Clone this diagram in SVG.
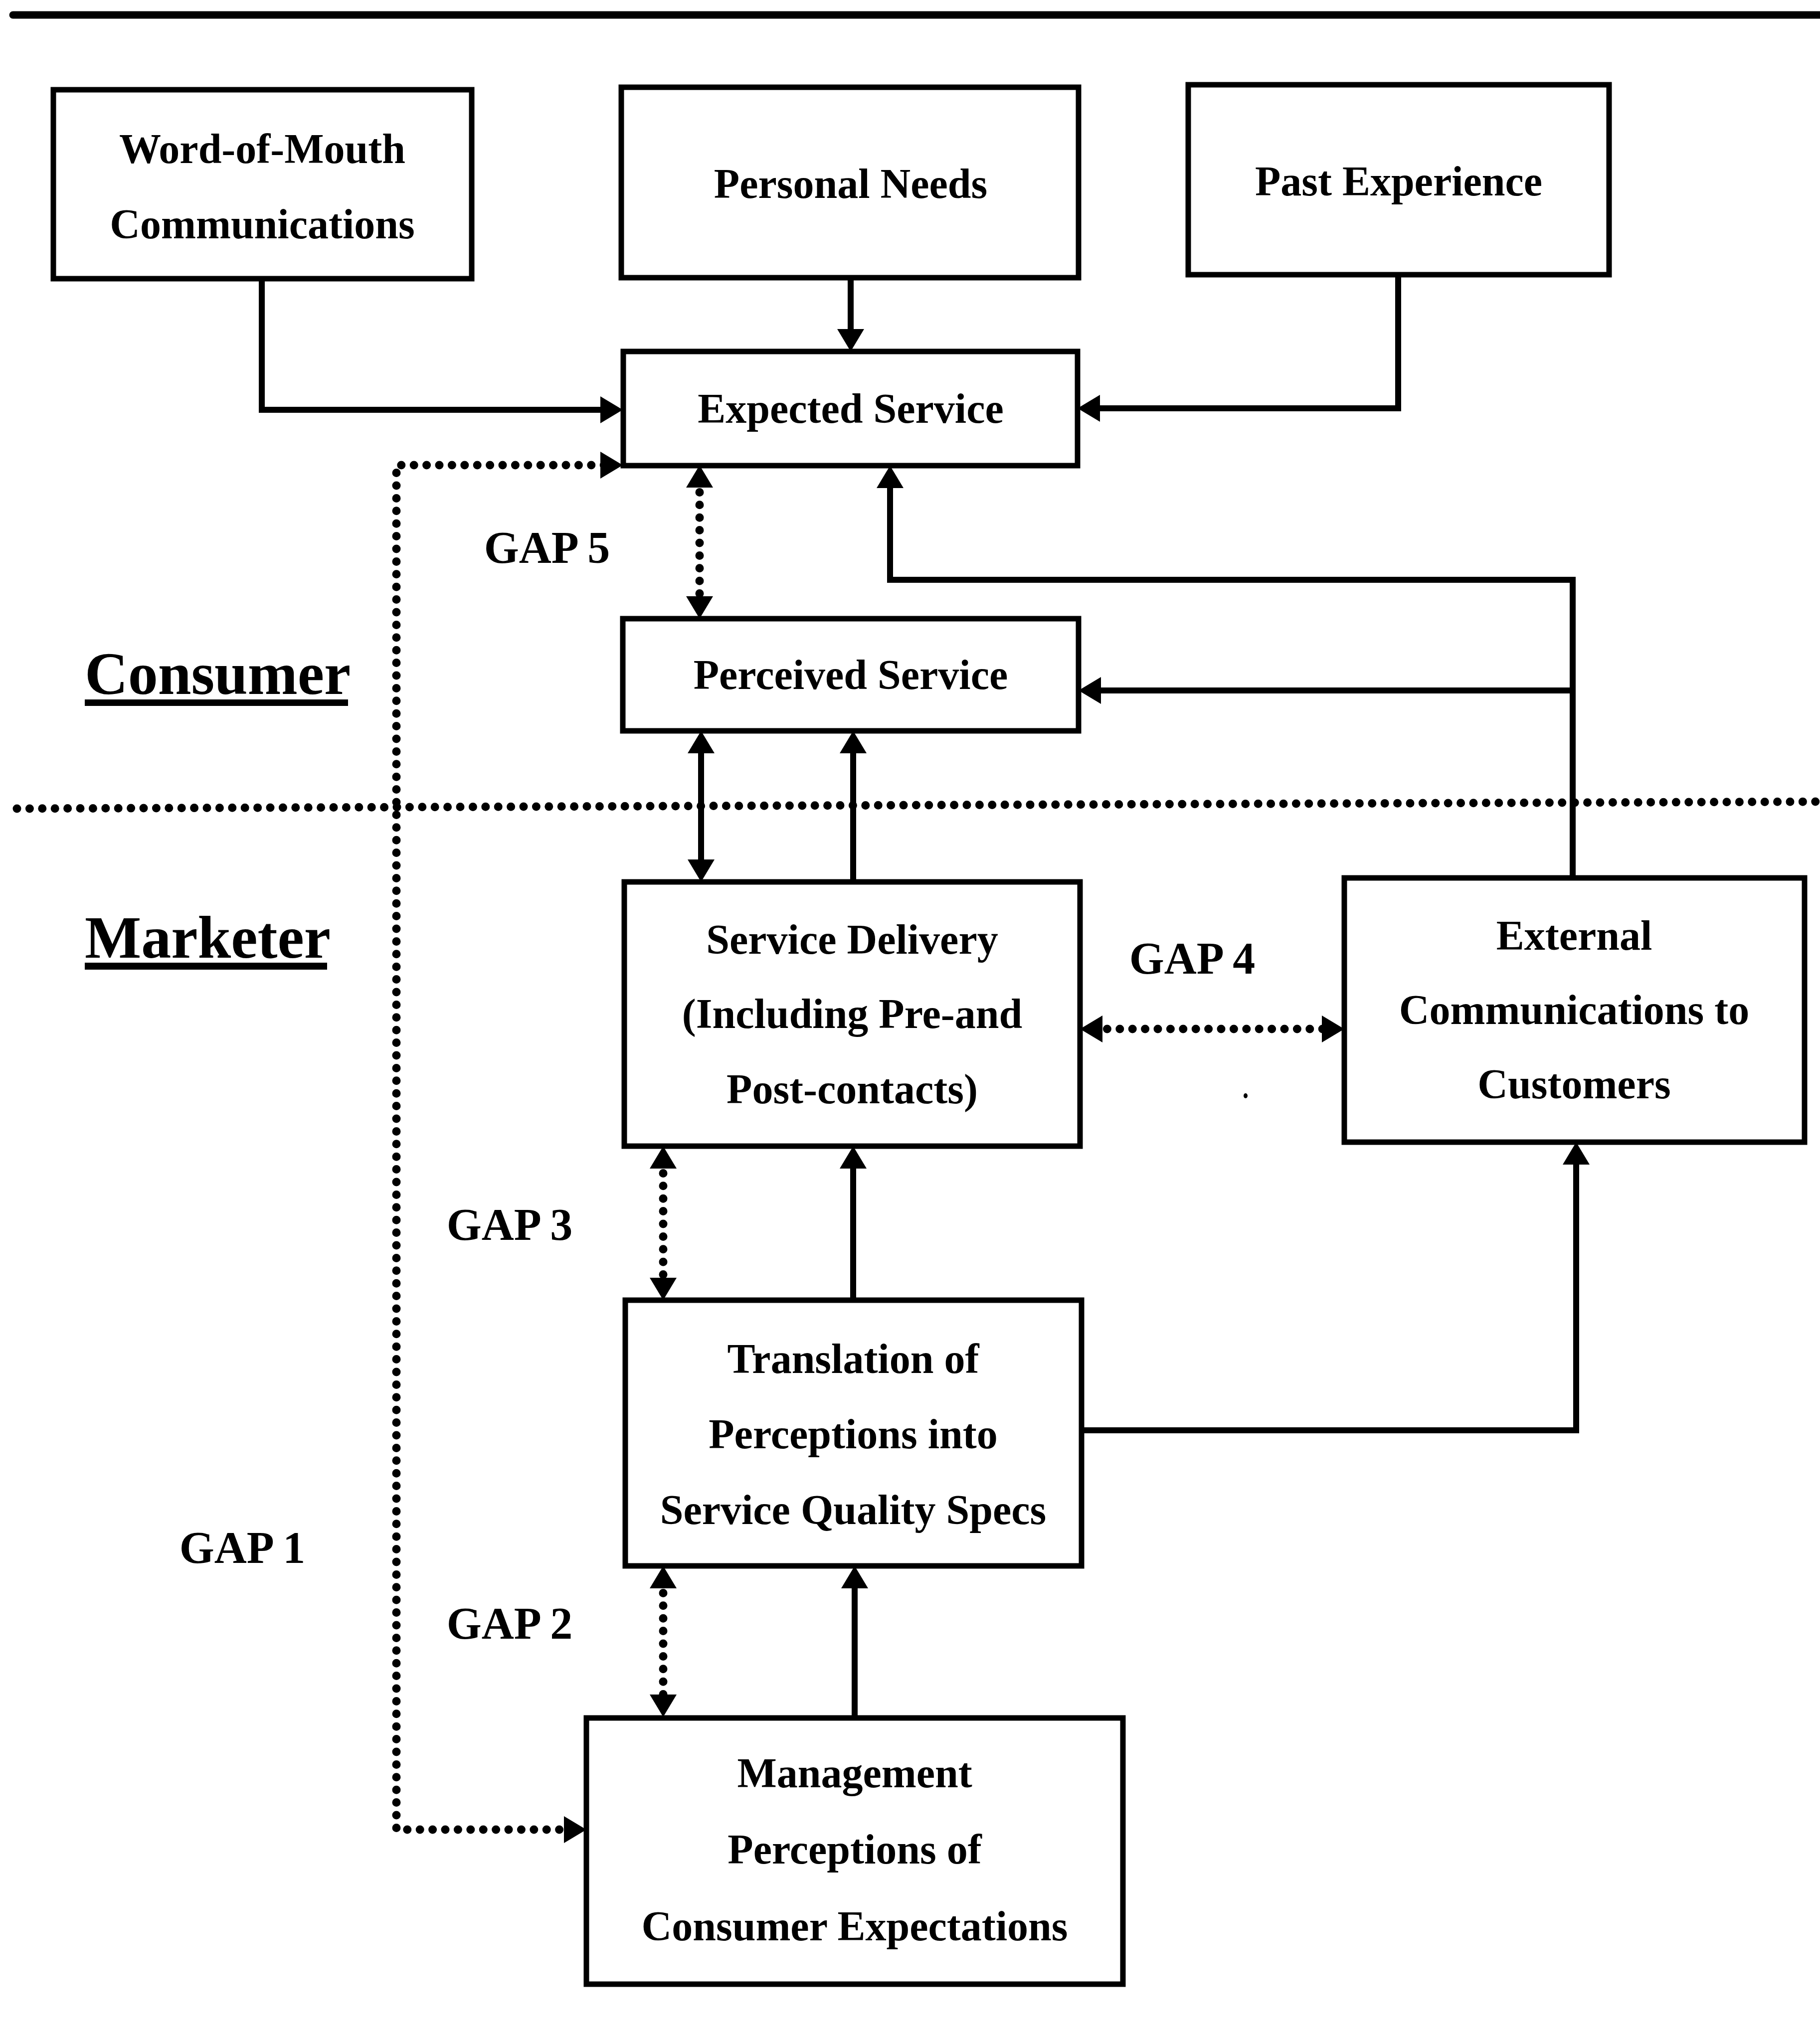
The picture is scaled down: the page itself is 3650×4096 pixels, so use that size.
<svg xmlns="http://www.w3.org/2000/svg" width="3650" height="4096" viewBox="0 0 3650 4096">
  <style>
    .box { fill: #fff; stroke: #000; stroke-width: 11; }
    .lbl { font-family: "Liberation Serif", "Times New Roman", serif; font-weight: bold; font-size: 84px; fill: #000; text-anchor: middle; }
    .gap { font-family: "Liberation Serif", "Times New Roman", serif; font-weight: bold; font-size: 90px; fill: #000; text-anchor: middle; }
    .side { font-family: "Liberation Serif", "Times New Roman", serif; font-weight: bold; font-size: 120px; fill: #000; }
    .solid { fill: none; stroke: #000; stroke-width: 12; }
    .dots { fill: none; stroke: #000; stroke-width: 17; stroke-linecap: round; stroke-dasharray: 0 25.4; }
  </style>
  <defs>
    <marker id="arrow" viewBox="0 -28 45 56" refX="16" refY="0" markerWidth="45" markerHeight="56" markerUnits="userSpaceOnUse" orient="auto-start-reverse">
      <path d="M0,-27 L45,0 L0,27 z" fill="#000"/>
    </marker>
  </defs>

  <rect width="3650" height="4096" fill="#fff"/>

  <!-- rule across the top -->
  <line x1="26" y1="30" x2="3650" y2="30" stroke="#000" stroke-width="15" stroke-linecap="round"/>

  <!-- consumer / marketer divider -->
  <path class="dots" d="M34,1622 L3650,1608"/>

  <!-- side headings -->
  <g id="consumer-label">
    <text class="side" x="170" y="1392">Consumer</text>
    <rect x="170" y="1403" width="528" height="13" fill="#000"/>
  </g>
  <g id="marketer-label">
    <text class="side" x="170" y="1921">Marketer</text>
    <rect x="170" y="1931" width="486" height="14" fill="#000"/>
  </g>

  <!-- connectors -->
  <g id="connectors">
    <path class="solid" d="M525,559 V822 H1220" marker-end="url(#arrow)"/>
    <path class="solid" d="M1706,557 V676" marker-end="url(#arrow)"/>
    <path class="solid" d="M2804,551 V819 H2190" marker-end="url(#arrow)"/>
    <path class="solid" d="M3154,1761 V1163 H1785 V963" marker-end="url(#arrow)"/>
    <path class="solid" d="M3154,1385 H2192" marker-end="url(#arrow)"/>
    <path class="solid" d="M1406,1495 V1740" marker-start="url(#arrow)" marker-end="url(#arrow)"/>
    <path class="solid" d="M1711,1769 V1495" marker-end="url(#arrow)"/>
    <path class="solid" d="M1711,2608 V2328" marker-end="url(#arrow)"/>
    <path class="solid" d="M2169,2869 H3161 V2320" marker-end="url(#arrow)"/>
    <path class="solid" d="M1714,3446 V3170" marker-end="url(#arrow)"/>

    <path class="dots" d="M1147,3670 H795 V933 H1220" marker-start="url(#arrow)" marker-end="url(#arrow)"/>
    <path class="dots" d="M1403,962 V1212" marker-start="url(#arrow)" marker-end="url(#arrow)"/>
    <path class="dots" d="M2195,2064 H2667" marker-start="url(#arrow)" marker-end="url(#arrow)"/>
    <path class="dots" d="M1330,2328 V2579" marker-start="url(#arrow)" marker-end="url(#arrow)"/>
    <path class="dots" d="M1330,3170 V3415" marker-start="url(#arrow)" marker-end="url(#arrow)"/>
  </g>

  <!-- gap labels -->
  <g id="gap-labels">
    <text class="gap" x="1097" y="1129">GAP 5</text>
    <text class="gap" x="2391" y="1953">GAP 4</text>
    <text class="gap" x="1022" y="2487">GAP 3</text>
    <text class="gap" x="1022" y="3287">GAP 2</text>
    <text class="gap" x="486" y="3135">GAP 1</text>
  </g>

  <!-- nodes -->
  <g id="word-of-mouth">
    <rect class="box" x="107" y="180" width="839" height="379"/>
    <text class="lbl" x="526" y="327">Word-of-Mouth</text>
    <text class="lbl" x="526" y="478">Communications</text>
  </g>
  <g id="personal-needs">
    <rect class="box" x="1246" y="175" width="917" height="382"/>
    <text class="lbl" x="1706" y="397">Personal Needs</text>
  </g>
  <g id="past-experience">
    <rect class="box" x="2383" y="170" width="844" height="381"/>
    <text class="lbl" x="2805" y="392">Past Experience</text>
  </g>
  <g id="expected-service">
    <rect class="box" x="1250" y="705" width="911" height="229"/>
    <text class="lbl" x="1706" y="848">Expected Service</text>
  </g>
  <g id="perceived-service">
    <rect class="box" x="1249" y="1241" width="914" height="225"/>
    <text class="lbl" x="1706" y="1382">Perceived Service</text>
  </g>
  <g id="service-delivery">
    <rect class="box" x="1252" y="1769" width="914" height="530"/>
    <text class="lbl" x="1709" y="1913">Service Delivery</text>
    <text class="lbl" x="1709" y="2062">(Including Pre-and</text>
    <text class="lbl" x="1709" y="2213">Post-contacts)</text>
  </g>
  <g id="external-communications">
    <rect class="box" x="2696" y="1761" width="923" height="530"/>
    <text class="lbl" x="3157" y="1905">External</text>
    <text class="lbl" x="3157" y="2054">Communications to</text>
    <text class="lbl" x="3157" y="2203">Customers</text>
  </g>
  <g id="translation">
    <rect class="box" x="1254" y="2608" width="915" height="533"/>
    <text class="lbl" x="1711" y="2754">Translation of</text>
    <text class="lbl" x="1711" y="2905">Perceptions into</text>
    <text class="lbl" x="1711" y="3057">Service Quality Specs</text>
  </g>
  <g id="management-perceptions">
    <rect class="box" x="1176" y="3446" width="1076" height="534"/>
    <text class="lbl" x="1714" y="3585">Management</text>
    <text class="lbl" x="1714" y="3738">Perceptions of</text>
    <text class="lbl" x="1714" y="3892">Consumer Expectations</text>
  </g>

  <!-- small speck -->
  <ellipse cx="2498" cy="2198" rx="4" ry="5" fill="#000"/>
</svg>
